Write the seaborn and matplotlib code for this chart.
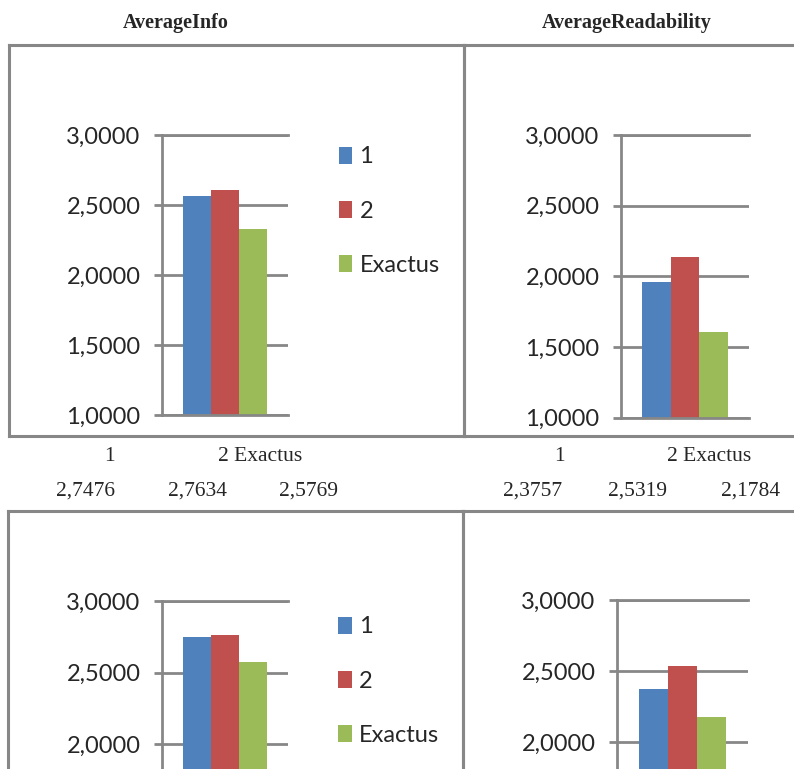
import matplotlib
matplotlib.use("Agg")
import matplotlib.pyplot as plt
import numpy as np
import pandas as pd
import seaborn as sns
from matplotlib.ticker import MultipleLocator, FuncFormatter

# Series shown in every chart
series = ["1", "2", "Exactus"]
palette = ["#4F81BD", "#C0504D", "#9BBB59"]

# Chart titles
titles = ["AverageInfo", "AverageReadability"]

# Averages per series (upper charts)
info_upper = [2.564, 2.607, 2.329]
readability_upper = [1.960, 2.137, 1.606]

# Averages per series (lower charts, also printed in the table between rows)
info_lower = [2.7476, 2.7634, 2.5769]
readability_lower = [2.3757, 2.5319, 2.1784]

Y_MIN, Y_MAX, Y_STEP = 1.0, 3.0, 0.5

GRAY = "#878787"
W, H = 794, 769
LABEL_SIZE = 17

sns.set_style("white")
plt.rcParams["font.family"] = ["Lato", "DejaVu Sans"]

fig = plt.figure(figsize=(W / 100, H / 100), dpi=100)


def rect(x0, y0, x1, y1):
    """Pixel box (top-left origin) -> figure fraction rect."""
    return [x0 / W, 1 - y1 / H, (x1 - x0) / W, (y1 - y0) / H]


def fmt(v):
    return f"{v:.4f}".replace(".", ",")


# Chart-area borders
for box in [(8.5, 44.5, 464, 436.5), (464, 44.5, 1100, 436.5),
            (8, 510.5, 462.5, 1100), (462.5, 510.5, 1100, 1100)]:
    fa = fig.add_axes(rect(*box))
    fa.set_xticks([])
    fa.set_yticks([])
    fa.patch.set_alpha(0)
    for sp in fa.spines.values():
        sp.set_color(GRAY)
        sp.set_linewidth(2.2)


def draw_chart(x0, x1, y_top, px_per_unit, values, legend_anchor=None):
    """Plot area from Y_MIN to Y_MAX; cut at the page bottom when it runs past it."""
    y_bottom = y_top + (Y_MAX - Y_MIN) * px_per_unit
    cut = y_bottom > H
    y_lo = Y_MAX - (H - y_top) / px_per_unit if cut else Y_MIN
    ax = fig.add_axes(rect(x0, y_top, x1, min(y_bottom, H)))
    ax.patch.set_alpha(0)
    df = pd.DataFrame({"group": ["g"] * len(series), "series": series, "value": values})
    sns.barplot(data=df, x="group", y="value", hue="series", hue_order=series,
                palette=palette, width=0.667, gap=0, saturation=1, linewidth=0,
                errorbar=None, ax=ax, legend=legend_anchor is not None)
    ax.set_xlim(-0.5, 0.5)
    ax.set_ylim(y_lo, Y_MAX)
    ax.yaxis.set_major_locator(MultipleLocator(Y_STEP))
    ax.yaxis.set_major_formatter(FuncFormatter(lambda v, _: fmt(v)))
    ax.grid(axis="y", color=GRAY, linewidth=2.0)
    ax.grid(axis="x", visible=False)
    ax.set_axisbelow(True)
    for name, sp in ax.spines.items():
        sp.set_color(GRAY)
        sp.set_linewidth(2.0)
        sp.set_visible(name in ("left", "top") or (name == "bottom" and not cut))
    ax.tick_params(axis="y", length=6, width=2.0, color=GRAY, pad=9.5,
                   labelsize=LABEL_SIZE, left=True)
    ax.tick_params(axis="x", length=0, labelbottom=False)
    ax.set_xlabel("")
    ax.set_ylabel("")
    if legend_anchor is not None:
        sns.move_legend(ax, "center left",
                        bbox_to_anchor=(legend_anchor[0] / W, 1 - legend_anchor[1] / H),
                        bbox_transform=fig.transFigure, frameon=False, title="",
                        fontsize=LABEL_SIZE, handlelength=0.59, handleheight=0.72,
                        handletextpad=0.3, labelspacing=1.4, borderpad=0,
                        borderaxespad=0)
    return ax


draw_chart(162, 288, 135, 140, info_upper, legend_anchor=(338.5, 211))
draw_chart(621, 749, 135, 141.3, readability_upper)
draw_chart(162, 288, 601, 143, info_lower, legend_anchor=(338, 681))
draw_chart(617, 748, 600, 142, readability_lower)

# Titles
serif = ["Liberation Serif", "DejaVu Serif"]
for text, cx in zip(titles, [175.5, 626.5]):
    fig.text(cx / W, 1 - 28 / H, text, ha="center", va="baseline",
             fontsize=14.5, fontweight="bold", family=serif)

# Data table between the chart rows
header_2 = f"{series[1]} {series[2]}"
for vals, one_x, two_x, val_xs in [
    (info_lower, 115, 218, [115, 227, 338]),
    (readability_lower, 565, 667, [562, 667, 780]),
]:
    fig.text(one_x / W, 1 - 461 / H, series[0], ha="right", va="baseline",
             fontsize=15.5, family=serif)
    fig.text(two_x / W, 1 - 461 / H, header_2, ha="left", va="baseline",
             fontsize=15.5, family=serif)
    for v, x in zip(vals, val_xs):
        fig.text(x / W, 1 - 496 / H, fmt(v), ha="right", va="baseline",
                 fontsize=15.5, family=serif)

fig.savefig("out.png", dpi=100)
